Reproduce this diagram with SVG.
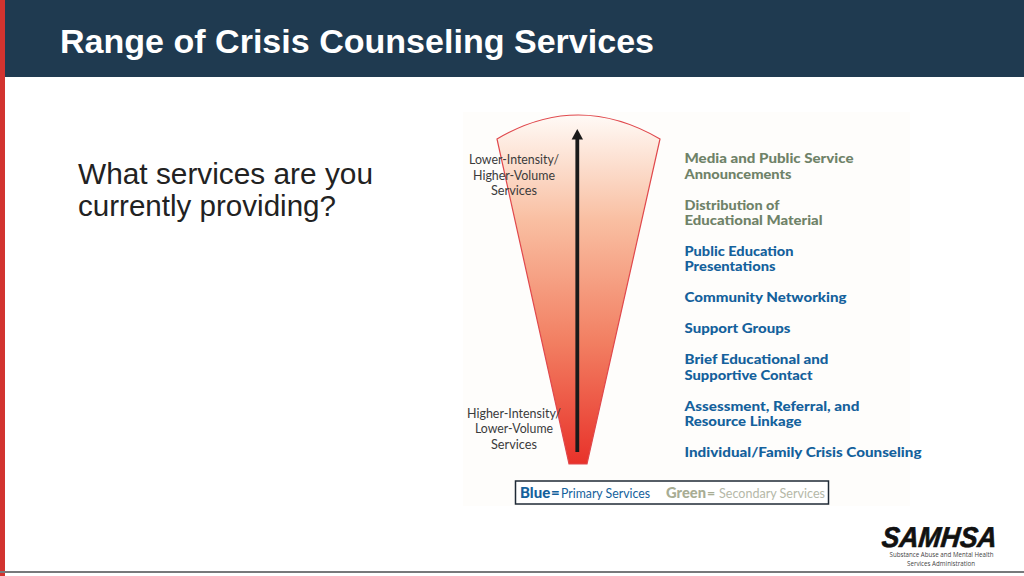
<svg xmlns="http://www.w3.org/2000/svg" width="1024" height="576" viewBox="0 0 1024 576">
<style>
.t{font-family:"Liberation Sans",Arial,sans-serif}
.g{font-family:Lato,"Open Sans",sans-serif;font-size:13.5px;fill:#3b3b3b}
.s{font-family:Lato,"Open Sans",sans-serif;font-size:14px;font-weight:900}
.gr{fill:#6f8268}
.bl{fill:#14619c}
</style>
<defs>
<linearGradient id="fan" x1="0" y1="0" x2="0" y2="1">
<stop offset="0" stop-color="#fffaf6"/>
<stop offset="0.3" stop-color="#f9bfa2"/>
<stop offset="0.65" stop-color="#f27f62"/>
<stop offset="1" stop-color="#e8322a"/>
</linearGradient>
</defs>
<rect width="1024" height="576" fill="#fff"/>
<g id="header">
<rect x="0" y="0" width="1024" height="77" fill="#1f3a50"/>
<text class="t" x="60" y="53" font-size="33" font-weight="700" fill="#fff" textLength="594" lengthAdjust="spacingAndGlyphs">Range of Crisis Counseling Services</text>
</g>
<rect id="side-bar" x="0" y="0" width="5" height="576" fill="#d2332f"/>
<g id="question">
<text class="t" x="78" y="184" font-size="29.5" fill="#222" textLength="295" lengthAdjust="spacingAndGlyphs">What services are you</text>
<text class="t" x="78" y="215.500" font-size="29.5" fill="#222" textLength="258" lengthAdjust="spacingAndGlyphs">currently providing?</text>
</g>
<rect id="panel" x="463" y="112" width="447" height="394" fill="#fefdfb"/>
<g id="fan-shape">
<path d="M497 139Q578 91 660 139L587 464H569Z" fill="url(#fan)" stroke="#e0484c" stroke-width="1.200"/>
</g>
<g id="connectors">
<path d="M577.300 452V138" stroke="#1a1a1a" stroke-width="3.800" fill="none"/>
<path d="M577.300 129L583 139.500H571.600Z" fill="#1a1a1a"/>
</g>
<g id="label-top">
<text class="g" x="514" y="164" text-anchor="middle" textLength="90" lengthAdjust="spacingAndGlyphs">Lower-Intensity/</text>
<text class="g" x="514" y="180" text-anchor="middle" textLength="82" lengthAdjust="spacingAndGlyphs">Higher-Volume</text>
<text class="g" x="514" y="195" text-anchor="middle" textLength="46" lengthAdjust="spacingAndGlyphs">Services</text>
</g>
<g id="label-bottom">
<text class="g" x="514" y="418" text-anchor="middle" textLength="94" lengthAdjust="spacingAndGlyphs">Higher-Intensity/</text>
<text class="g" x="514" y="433" text-anchor="middle" textLength="78" lengthAdjust="spacingAndGlyphs">Lower-Volume</text>
<text class="g" x="514" y="449" text-anchor="middle" textLength="46" lengthAdjust="spacingAndGlyphs">Services</text>
</g>
<g id="service-1"><text class="s gr" x="684.500" y="163" textLength="169" lengthAdjust="spacingAndGlyphs">Media and Public Service</text><text class="s gr" x="684.500" y="179" textLength="107" lengthAdjust="spacingAndGlyphs">Announcements</text></g>
<g id="service-2"><text class="s gr" x="684.500" y="210" textLength="95" lengthAdjust="spacingAndGlyphs">Distribution of</text><text class="s gr" x="684.500" y="225" textLength="138" lengthAdjust="spacingAndGlyphs">Educational Material</text></g>
<g id="service-3"><text class="s bl" x="684.500" y="256" textLength="109" lengthAdjust="spacingAndGlyphs">Public Education</text><text class="s bl" x="684.500" y="271" textLength="91" lengthAdjust="spacingAndGlyphs">Presentations</text></g>
<g id="service-4"><text class="s bl" x="684.500" y="302" textLength="162" lengthAdjust="spacingAndGlyphs">Community Networking</text></g>
<g id="service-5"><text class="s bl" x="684.500" y="333" textLength="106" lengthAdjust="spacingAndGlyphs">Support Groups</text></g>
<g id="service-6"><text class="s bl" x="684.500" y="364" textLength="144" lengthAdjust="spacingAndGlyphs">Brief Educational and</text><text class="s bl" x="684.500" y="380" textLength="128" lengthAdjust="spacingAndGlyphs">Supportive Contact</text></g>
<g id="service-7"><text class="s bl" x="684.500" y="411" textLength="175" lengthAdjust="spacingAndGlyphs">Assessment, Referral, and</text><text class="s bl" x="684.500" y="426" textLength="117" lengthAdjust="spacingAndGlyphs">Resource Linkage</text></g>
<g id="service-8"><text class="s bl" x="684.500" y="457" textLength="237" lengthAdjust="spacingAndGlyphs">Individual/Family Crisis Counseling</text></g>
<g id="legend">
<rect x="515.500" y="481" width="313" height="23" fill="#fff" stroke="#1f2a36" stroke-width="1.500"/>
<text class="s bl" x="520" y="498" style="font-size:15px">Blue</text>
<text class="s bl" x="551" y="498" style="font-size:15px">=</text>
<text font-family="Lato,sans-serif" font-size="14" fill="#14619c" x="561" y="498" textLength="89" lengthAdjust="spacingAndGlyphs">Primary Services</text>
<text class="s" fill="#a8ad94" x="666" y="498" textLength="40" lengthAdjust="spacingAndGlyphs" style="font-size:15px">Green</text>
<text class="s" fill="#a8ad94" x="707" y="498" style="font-size:14px">=</text>
<text font-family="Lato,sans-serif" font-size="14" fill="#b5b8a8" x="719" y="498" textLength="106" lengthAdjust="spacingAndGlyphs">Secondary Services</text>
</g>
<g id="logo">
<text transform="translate(881 547) skewX(-6) scale(1 1.1)" font-family="'Liberation Sans',sans-serif" font-weight="700" font-style="italic" font-size="26" fill="#111" stroke="#111" stroke-width="0.600" textLength="115" lengthAdjust="spacingAndGlyphs">SAMHSA</text>
<text x="941.500" y="557" text-anchor="middle" font-family="'Open Sans',sans-serif" font-size="7.500" fill="#444" textLength="104" lengthAdjust="spacingAndGlyphs">Substance Abuse and Mental Health</text>
<text x="941" y="566" text-anchor="middle" font-family="'Open Sans',sans-serif" font-size="7.500" fill="#444" textLength="68" lengthAdjust="spacingAndGlyphs">Services Administration</text>
</g>
<rect id="footer-line" x="0" y="571" width="1024" height="2" fill="#77797b"/>
</svg>
